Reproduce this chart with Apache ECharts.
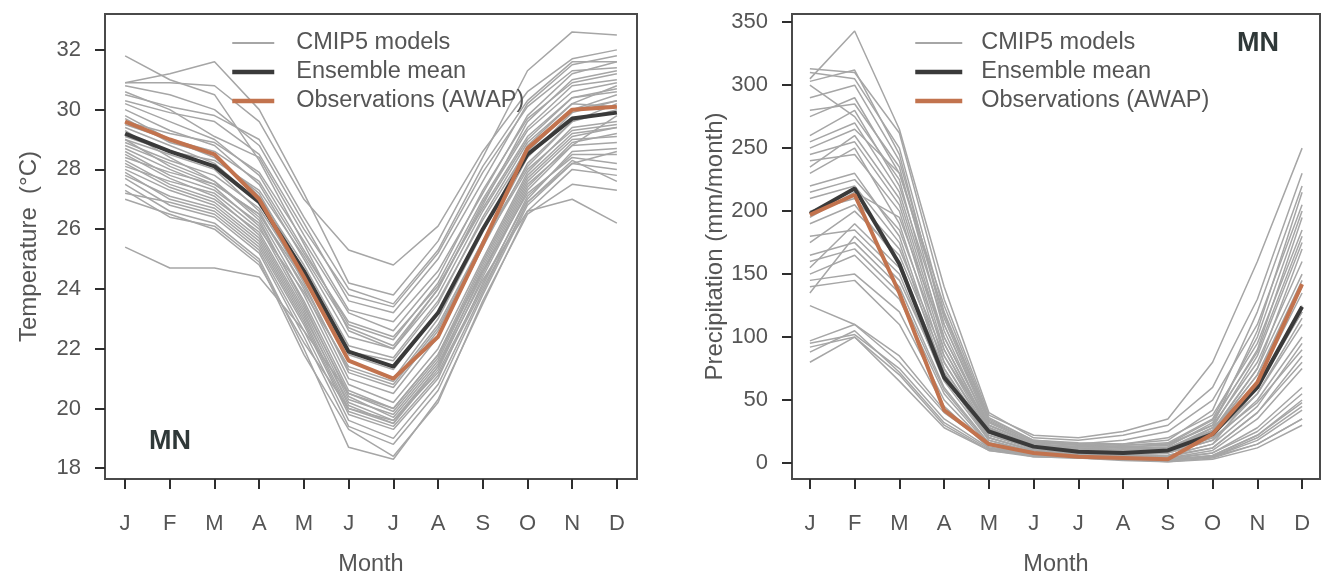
<!DOCTYPE html>
<html>
<head>
<meta charset="utf-8">
<script src="https://cdn.jsdelivr.net/npm/echarts@6/dist/echarts.min.js"></script>
<style>
html,body{margin:0;padding:0;background:#fff;}
#chart{width:1323px;height:574px;}
</style>
</head>
<body>
<div id="chart"></div>
<script>
const months = ['J','F','M','A','M','J','J','A','S','O','N','D'];
const tempTicks = [18,20,22,24,26,28,30,32];
const precTicks = [0,50,100,150,200,250,300,350];

const tempMean = [29.2, 28.6, 28.1, 26.9, 24.6, 21.9, 21.4, 23.2, 26.0, 28.5, 29.7, 29.9];
const tempObs  = [29.6, 29.0, 28.5, 27.0, 24.4, 21.6, 21.0, 22.4, 25.5, 28.7, 30.0, 30.1];
const tempModels = [
  [31.8, 31.0, 30.5, 28.3, 25.5, 22.6, 22.0, 24.0, 26.8, 29.6, 31.0, 31.3],
  [30.9, 31.2, 31.6, 30.0, 27.2, 24.2, 23.8, 25.6, 28.4, 31.3, 32.6, 32.5],
  [30.9, 30.9, 30.8, 29.6, 27.0, 25.3, 24.8, 26.1, 28.6, 30.6, 31.7, 32.0],
  [30.8, 30.5, 30.0, 28.8, 26.2, 23.6, 23.2, 25.0, 27.6, 30.2, 31.5, 31.8],
  [30.6, 30.0, 29.1, 28.4, 25.8, 23.3, 22.9, 24.6, 27.2, 29.8, 31.2, 31.6],
  [30.2, 29.6, 29.0, 27.8, 25.3, 22.8, 22.3, 24.2, 27.0, 29.4, 30.8, 31.0],
  [30.0, 29.3, 28.8, 27.5, 25.0, 22.4, 22.0, 23.8, 26.6, 29.0, 30.4, 30.6],
  [29.8, 29.0, 28.4, 27.2, 24.6, 21.6, 21.0, 23.0, 25.9, 28.8, 30.2, 30.8],
  [29.4, 28.8, 28.2, 26.9, 24.2, 21.2, 20.7, 22.6, 25.6, 28.4, 29.9, 30.3],
  [29.0, 28.5, 28.0, 26.6, 24.0, 21.0, 20.5, 22.4, 25.4, 28.2, 29.6, 30.0],
  [28.8, 28.2, 27.6, 26.4, 23.8, 20.8, 20.2, 22.0, 25.0, 27.9, 29.4, 29.6],
  [28.6, 27.8, 27.3, 26.2, 23.6, 20.6, 20.0, 21.8, 24.9, 27.8, 29.2, 29.4],
  [28.3, 27.5, 27.0, 25.9, 23.3, 20.3, 19.8, 21.6, 24.7, 27.6, 29.0, 29.1],
  [28.0, 27.3, 26.8, 25.6, 23.0, 20.0, 19.5, 21.3, 24.4, 27.3, 28.8, 28.9],
  [27.9, 27.0, 26.6, 25.4, 22.8, 19.8, 19.3, 21.0, 24.2, 27.0, 28.6, 28.7],
  [27.7, 26.8, 26.4, 25.2, 22.4, 19.4, 18.8, 20.6, 23.8, 26.8, 28.2, 28.0],
  [27.5, 26.6, 26.2, 25.0, 22.0, 18.7, 18.3, 20.3, 23.5, 26.6, 28.0, 27.8],
  [27.3, 26.4, 26.1, 24.9, 21.8, 19.3, 18.4, 20.2, 23.6, 26.5, 27.5, 27.3],
  [27.0, 26.5, 26.0, 24.8, 22.2, 20.0, 19.6, 21.4, 24.3, 26.6, 27.0, 26.2],
  [25.4, 24.7, 24.7, 24.4, 22.6, 20.5, 20.0, 21.8, 24.6, 27.2, 28.4, 28.2],
  [28.1, 27.6, 27.2, 26.0, 23.9, 21.4, 20.9, 22.8, 25.6, 28.1, 29.6, 30.2],
  [28.4, 27.9, 27.5, 26.5, 24.3, 21.8, 21.3, 23.2, 26.0, 28.6, 30.0, 30.5],
  [29.1, 28.6, 28.3, 27.3, 25.1, 22.7, 22.1, 24.0, 26.9, 29.3, 30.6, 30.9],
  [29.6, 29.2, 28.9, 27.9, 25.6, 23.2, 22.6, 24.4, 27.3, 29.7, 30.9, 31.2],
  [30.3, 29.9, 29.6, 28.5, 26.0, 23.8, 23.4, 25.2, 27.9, 30.1, 31.3, 31.4],
  [28.9, 28.3, 27.8, 26.7, 24.4, 21.9, 21.6, 23.5, 26.4, 28.9, 30.2, 30.1],
  [28.7, 28.0, 27.4, 26.1, 23.4, 20.5, 19.9, 21.7, 24.8, 27.7, 29.1, 29.4],
  [29.3, 28.4, 27.6, 26.3, 23.5, 20.4, 19.7, 21.5, 24.5, 27.4, 28.9, 29.2],
  [28.2, 27.4, 26.9, 25.7, 23.1, 20.2, 19.6, 21.2, 24.1, 27.1, 28.5, 28.5],
  [27.8, 27.1, 26.7, 25.5, 22.9, 19.9, 19.4, 21.1, 24.0, 26.9, 28.3, 27.6],
  [29.5, 29.0, 28.6, 27.6, 25.2, 22.9, 22.4, 24.1, 26.7, 29.1, 30.4, 30.7],
  [30.5, 30.1, 29.8, 29.0, 26.4, 24.0, 23.5, 25.3, 28.1, 30.3, 31.6, 31.6],
  [28.5, 27.7, 27.1, 25.8, 23.2, 20.1, 19.5, 21.4, 24.6, 27.5, 28.8, 29.8],
  [29.0, 28.1, 27.5, 26.5, 24.1, 21.3, 20.8, 22.7, 25.5, 28.0, 29.3, 29.5],
  [27.2, 26.9, 26.5, 25.3, 22.6, 19.6, 19.0, 20.8, 23.9, 26.9, 28.2, 28.6],
  [29.7, 28.9, 28.5, 27.1, 24.8, 22.1, 21.7, 23.6, 26.3, 28.7, 30.0, 30.3]
];

const precMean = [198, 218, 158, 68, 25, 13, 9, 8, 10, 23, 60, 124];
const precObs  = [197, 213, 135, 42, 15, 8, 5, 4, 3, 23, 64, 142];
const precModels = [
  [305, 343, 265, 140, 40, 20, 18, 22, 30, 60, 130, 230],
  [313, 310, 262, 130, 38, 22, 20, 25, 35, 80, 160, 250],
  [310, 305, 250, 120, 35, 18, 15, 18, 25, 50, 110, 205],
  [303, 312, 245, 110, 30, 15, 13, 15, 20, 38, 95, 185],
  [290, 300, 240, 115, 32, 16, 14, 12, 15, 30, 80, 160],
  [280, 285, 235, 105, 28, 14, 12, 10, 12, 25, 70, 140],
  [300, 275, 225, 95, 26, 13, 11, 9, 10, 22, 60, 120],
  [255, 270, 215, 100, 30, 16, 15, 14, 16, 35, 100, 200],
  [245, 255, 205, 90, 25, 12, 10, 8, 8, 18, 55, 110],
  [240, 245, 200, 85, 24, 11, 9, 7, 6, 15, 45, 95],
  [230, 250, 190, 80, 22, 12, 10, 9, 10, 28, 85, 175],
  [220, 230, 180, 75, 20, 10, 8, 6, 5, 12, 40, 85],
  [210, 220, 175, 70, 18, 9, 7, 5, 4, 10, 35, 75],
  [200, 210, 170, 85, 28, 14, 13, 12, 13, 32, 90, 195],
  [190, 205, 160, 72, 20, 10, 9, 8, 9, 20, 65, 135],
  [180, 185, 150, 65, 18, 8, 6, 5, 3, 8, 28, 60],
  [165, 175, 140, 60, 16, 8, 6, 4, 2, 6, 22, 50],
  [160, 170, 135, 58, 15, 7, 5, 3, 2, 5, 18, 42],
  [150, 165, 130, 55, 14, 6, 5, 3, 1, 4, 15, 35],
  [145, 150, 120, 50, 13, 6, 4, 3, 2, 5, 20, 45],
  [140, 145, 110, 45, 12, 5, 4, 2, 1, 3, 12, 30],
  [135, 180, 145, 68, 20, 10, 8, 7, 8, 18, 50, 100],
  [125, 110, 80, 40, 15, 8, 7, 6, 6, 15, 60, 125],
  [97, 110, 85, 42, 16, 9, 8, 7, 8, 25, 75, 150],
  [95, 102, 75, 35, 12, 7, 6, 5, 6, 12, 40, 80],
  [92, 100, 70, 30, 10, 6, 5, 4, 4, 8, 25, 55],
  [88, 105, 72, 32, 11, 6, 5, 4, 3, 6, 22, 48],
  [80, 100, 65, 28, 10, 5, 4, 3, 2, 5, 15, 35],
  [275, 290, 230, 125, 36, 18, 16, 15, 18, 42, 120, 220],
  [260, 280, 220, 110, 33, 17, 14, 13, 14, 30, 105, 215],
  [235, 260, 210, 95, 28, 14, 12, 11, 12, 26, 75, 170],
  [215, 225, 185, 90, 27, 13, 11, 10, 11, 24, 70, 145],
  [175, 200, 165, 80, 24, 12, 10, 9, 10, 22, 55, 115],
  [155, 190, 155, 75, 22, 11, 9, 8, 9, 20, 48, 90],
  [195, 215, 195, 100, 30, 15, 13, 12, 12, 28, 62, 120],
  [250, 265, 230, 118, 34, 17, 15, 14, 15, 34, 88, 180]
];

const FONT = "'Liberation Sans', Arial, Helvetica, sans-serif";
const TXT = '#555555';
const GRAY = '#a6a6a6';
const BLACK = '#3a3a3a';
const ORANGE = '#c2734e';
const NAMES = ['CMIP5 models', 'Ensemble mean', 'Observations (AWAP)'];
const monthIdx = months.map((m, i) => i);

function pts(arr) { return arr.map((v, i) => [i, v]); }

function xAxis(gridIndex, min, max) {
  return {
    type: 'value', gridIndex, min, max,
    name: 'Month', nameLocation: 'middle', nameGap: 74,
    nameTextStyle: { fontSize: 23.5, color: TXT, fontFamily: FONT },
    axisLine: { show: false, onZero: false },
    splitLine: { show: false },
    axisTick: { show: true, inside: false, length: 10, customValues: monthIdx,
      lineStyle: { color: '#2e2e2e', width: 2 } },
    axisLabel: { show: true, customValues: monthIdx, margin: 34, fontSize: 22,
      color: TXT, fontFamily: FONT, formatter: v => months[Math.round(v)] }
  };
}
function yAxis(gridIndex, min, max, ticks, name) {
  return {
    type: 'value', gridIndex, min, max,
    name, nameLocation: 'middle', nameGap: 64,
    nameTextStyle: { fontSize: 24, color: TXT, fontFamily: FONT },
    axisLine: { show: false, onZero: false },
    splitLine: { show: false },
    axisTick: { show: true, inside: false, length: 10, customValues: ticks,
      lineStyle: { color: '#2e2e2e', width: 2 } },
    axisLabel: { show: true, customValues: ticks, margin: 24, fontSize: 22,
      color: TXT, fontFamily: FONT }
  };
}

const series = [];
function addPanel(idx, models, mean, obs) {
  models.forEach(m => series.push({
    type: 'line', name: NAMES[0], xAxisIndex: idx, yAxisIndex: idx,
    data: pts(m), symbol: 'none', silent: true,
    lineStyle: { color: GRAY, width: 1.5 }, itemStyle: { color: GRAY }, z: 2
  }));
  series.push({
    type: 'line', name: NAMES[1], xAxisIndex: idx, yAxisIndex: idx,
    data: pts(mean), symbol: 'none',
    lineStyle: { color: BLACK, width: 4 }, itemStyle: { color: BLACK }, z: 3
  });
  series.push({
    type: 'line', name: NAMES[2], xAxisIndex: idx, yAxisIndex: idx,
    data: pts(obs), symbol: 'none',
    lineStyle: { color: ORANGE, width: 4 }, itemStyle: { color: ORANGE }, z: 4
  });
}
addPanel(0, tempModels, tempMean, tempObs);
addPanel(1, precModels, precMean, precObs);

const legendData = [
  { name: NAMES[0], lineStyle: { width: 2 } },
  { name: NAMES[1], lineStyle: { width: 4.5 } },
  { name: NAMES[2], lineStyle: { width: 4.5 } }
];
const legendCommon = {
  orient: 'vertical', padding: 0, itemHeight: 14, itemGap: 5,
  data: legendData, selectedMode: false,
  itemStyle: { opacity: 0 },
  textStyle: { fontSize: 23.5, color: TXT, fontFamily: FONT, lineHeight: 22 }
};

const gridCommon = { show: true, borderColor: '#4a4a4a', borderWidth: 2,
  backgroundColor: 'transparent', containLabel: false, outerBoundsMode: 'none' };

const option = {
  animation: false,
  backgroundColor: '#ffffff',
  title: [
    { text: 'MN', left: 149, top: 428, padding: 0,
      textStyle: { fontSize: 27, fontWeight: 'bold', color: '#2f3838', fontFamily: FONT } },
    { text: 'MN', left: 1237, top: 30, padding: 0,
      textStyle: { fontSize: 27, fontWeight: 'bold', color: '#2f3838', fontFamily: FONT } }
  ],
  legend: [
    Object.assign({}, legendCommon, { left: 230, top: 31, itemWidth: 42,
      textStyle: Object.assign({}, legendCommon.textStyle, { padding: [0, 0, 0, 17] }) }),
    Object.assign({}, legendCommon, { left: 913, top: 31, itemWidth: 47,
      textStyle: Object.assign({}, legendCommon.textStyle, { padding: [0, 0, 0, 14] }) })
  ],
  grid: [
    Object.assign({ left: 105, top: 14, width: 532, height: 465 }, gridCommon),
    Object.assign({ left: 792, top: 14, width: 528, height: 465 }, gridCommon)
  ],
  xAxis: [xAxis(0, -0.45, 11.45), xAxis(1, -0.4, 11.4)],
  yAxis: [
    yAxis(0, 17.64, 33.2, tempTicks, 'Temperature  (°C)'),
    yAxis(1, -12.7, 356.5, precTicks, 'Precipitation (mm/month)')
  ],
  series
};

const chart = echarts.init(document.getElementById('chart'), null, { renderer: 'canvas' });
chart.setOption(option);
</script>
</body>
</html>
